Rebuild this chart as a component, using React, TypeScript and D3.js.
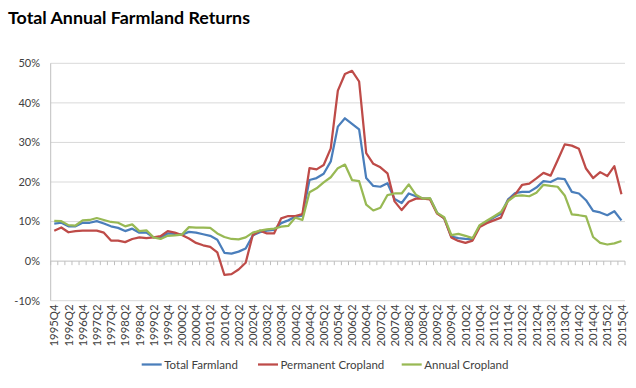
import React, { useRef, useEffect } from "react";
import * as d3 from "d3";

const quarters = (
  "1995Q4 1996Q1 1996Q2 1996Q3 1996Q4 1997Q1 1997Q2 1997Q3 1997Q4 1998Q1 1998Q2 1998Q3 1998Q4 " +
  "1999Q1 1999Q2 1999Q3 1999Q4 2000Q1 2000Q2 2000Q3 2000Q4 2001Q1 2001Q2 2001Q3 2001Q4 " +
  "2002Q1 2002Q2 2002Q3 2002Q4 2003Q1 2003Q2 2003Q3 2003Q4 2004Q1 2004Q2 2004Q3 2004Q4 " +
  "2005Q1 2005Q2 2005Q3 2005Q4 2006Q1 2006Q2 2006Q3 2006Q4 2007Q1 2007Q2 2007Q3 2007Q4 " +
  "2008Q1 2008Q2 2008Q3 2008Q4 2009Q1 2009Q2 2009Q3 2009Q4 2010Q1 2010Q2 2010Q3 2010Q4 " +
  "2011Q1 2011Q2 2011Q3 2011Q4 2012Q1 2012Q2 2012Q3 2012Q4 2013Q1 2013Q2 2013Q3 2013Q4 " +
  "2014Q1 2014Q2 2014Q3 2014Q4 2015Q1 2015Q2 2015Q3 2015Q4"
).split(" ");

// total annual returns, percent
const totalFarmland = [
  9.5, 9.7, 8.8, 8.8, 9.7, 9.7, 10.1, 9.5, 8.8, 8.4, 7.6, 8.2, 7.2, 7.2, 6.0, 6.0, 7.0, 6.9, 6.7, 7.4,
  7.2, 6.8, 6.4, 5.4, 2.1, 1.9, 2.4, 3.2, 6.5, 7.3, 7.7, 7.9, 9.6, 10.3, 11.2, 11.5,
  20.5, 21.0, 22.1, 25.2, 34.0, 36.1, 34.7, 33.3, 21.0, 19.0, 18.8, 19.7, 15.7, 14.7, 17.1, 16.4,
  15.8, 15.8, 12.2, 10.8, 6.2, 5.8, 5.6, 5.5, 8.9, 9.9, 11.0, 12.0, 15.6, 17.2, 17.5, 17.5,
  18.6, 20.2, 20.0, 20.9, 20.7, 17.5, 17.1, 15.4, 12.7, 12.3, 11.6, 12.6, 10.3,
];
const permanentCropland = [
  7.7, 8.5, 7.3, 7.6, 7.7, 7.7, 7.7, 7.2, 5.2, 5.2, 4.8, 5.6, 6.0, 5.8, 6.0, 6.3, 7.6, 7.2, 6.6, 5.7,
  4.6, 4.0, 3.6, 2.2, -3.5, -3.3, -2.1, -0.4, 6.6, 7.7, 7.0, 7.0, 10.8, 11.4, 11.4, 11.9,
  23.5, 23.2, 24.3, 28.5, 43.1, 47.3, 48.1, 45.4, 27.3, 24.6, 23.7, 22.2, 15.1, 12.9, 15.0, 15.8,
  15.8, 15.6, 12.0, 10.8, 6.0, 5.1, 4.6, 5.2, 8.6, 9.6, 10.3, 11.0, 15.3, 16.8, 19.3, 19.6,
  20.9, 22.3, 21.6, 25.5, 29.5, 29.2, 28.4, 23.4, 21.0, 22.5, 21.5, 24.0, 16.9,
];
const annualCropland = [
  10.2, 10.1, 9.1, 9.0, 10.3, 10.4, 10.9, 10.4, 9.9, 9.7, 8.8, 9.3, 7.6, 7.8, 6.0, 5.6, 6.4, 6.5, 6.7, 8.6,
  8.5, 8.5, 8.4, 7.0, 6.1, 5.6, 5.5, 6.0, 7.2, 7.7, 8.0, 8.2, 8.7, 8.9, 11.0, 10.4,
  17.4, 18.4, 19.9, 21.2, 23.5, 24.4, 20.5, 20.2, 14.3, 12.8, 13.5, 16.7, 17.1, 17.1, 19.4, 16.8,
  15.8, 15.9, 12.2, 11.1, 6.6, 6.9, 6.4, 5.8, 9.1, 10.2, 11.3, 12.4, 15.2, 16.5, 16.6, 16.4,
  17.3, 19.3, 19.0, 18.8, 16.6, 11.8, 11.6, 11.3, 6.1, 4.6, 4.2, 4.5, 5.1,
];

const seriesNames = ["Total Farmland", "Permanent Cropland", "Annual Cropland"];
const seriesColors = ["#4a7ebb", "#be4b48", "#98b954"];
const yTicks = [-10, 0, 10, 20, 30, 40, 50];

export default function App() {
  const svgRef = useRef<SVGSVGElement>(null);

  useEffect(() => {
    const svg = d3.select(svgRef.current);
    svg.selectAll("*").remove();
    const font = "Lato, 'Open Sans', sans-serif";

    const x = d3.scaleBand().domain(quarters).range([50.7, 625]).padding(0);
    const cx = (q: string) => (x(q) as number) + x.bandwidth() / 2;
    const y = d3.scaleLinear().domain([-10, 50]).range([300.7, 63.3]);

    // title
    svg.append("text")
      .attr("x", 8).attr("y", 23.5)
      .attr("font-family", font).attr("font-weight", "bold").attr("font-size", 17.5)
      .attr("textLength", 242).attr("lengthAdjust", "spacingAndGlyphs")
      .attr("fill", "#000")
      .text("Total Annual Farmland Returns");

    // gridlines + y labels
    svg.append("g").selectAll("line").data(yTicks.filter((t) => t !== 0)).enter()
      .append("line")
      .attr("x1", 50.7).attr("x2", 625)
      .attr("y1", (d) => y(d)).attr("y2", (d) => y(d))
      .attr("stroke", "#d9d9d9").attr("stroke-width", 1);

    svg.append("g").selectAll("text").data(yTicks).enter()
      .append("text")
      .attr("x", 40).attr("y", (d) => y(d)).attr("dy", "0.35em")
      .attr("text-anchor", "end")
      .attr("font-family", font).attr("font-size", 11).attr("fill", "#404040")
      .text((d) => d + "%");

    // axes
    svg.append("line")
      .attr("x1", 50.7).attr("x2", 50.7).attr("y1", y(50)).attr("y2", y(-10))
      .attr("stroke", "#bfbfbf");
    svg.append("line")
      .attr("x1", 50.7).attr("x2", 625).attr("y1", y(0)).attr("y2", y(0))
      .attr("stroke", "#bfbfbf");

    // tick marks on the category axis
    const tickPos = quarters.map((q) => x(q) as number).concat([625]);
    svg.append("g").selectAll("line").data(tickPos).enter()
      .append("line")
      .attr("x1", (d) => d).attr("x2", (d) => d)
      .attr("y1", y(0)).attr("y2", y(0) + 4)
      .attr("stroke", "#bfbfbf");

    // x labels, every second quarter
    svg.append("g").selectAll("text").data(quarters.filter((_q, i) => i % 2 === 0)).enter()
      .append("text")
      .attr("transform", (d) => "translate(" + cx(d) + "," + 304.5 + ") rotate(-90)")
      .attr("dy", "0.35em")
      .attr("text-anchor", "end")
      .attr("font-family", font).attr("font-size", 12)
      .attr("textLength", 42).attr("lengthAdjust", "spacingAndGlyphs")
      .attr("fill", "#404040")
      .text((d) => d);

    // lines
    const allSeries = [totalFarmland, permanentCropland, annualCropland];
    const line = d3.line<number>()
      .x((_d, i) => cx(quarters[i]))
      .y((d) => y(d));
    allSeries.forEach((s, k) => {
      svg.append("path")
        .datum(s)
        .attr("fill", "none")
        .attr("stroke", seriesColors[k])
        .attr("stroke-width", 2.25)
        .attr("stroke-linejoin", "round")
        .attr("d", line);
    });

    // legend
    const legendX = [141.7, 258, 401.7];
    const legend = svg.append("g").selectAll("g").data(seriesNames).enter()
      .append("g")
      .attr("transform", (_d, i) => "translate(" + legendX[i] + ",364.5)");
    legend.append("line")
      .attr("x1", 0).attr("x2", 20).attr("y1", 0).attr("y2", 0)
      .attr("stroke", (_d, i) => seriesColors[i]).attr("stroke-width", 2.25);
    legend.append("text")
      .attr("x", 22.5).attr("dy", "0.35em")
      .attr("font-family", font).attr("font-size", 11.5).attr("fill", "#404040")
      .text((d) => d);
  }, []);

  return (
    <svg
      ref={svgRef}
      width={636}
      height={388}
      style={{ position: "absolute", left: 0, top: 0, background: "#fff" }}
    />
  );
}
